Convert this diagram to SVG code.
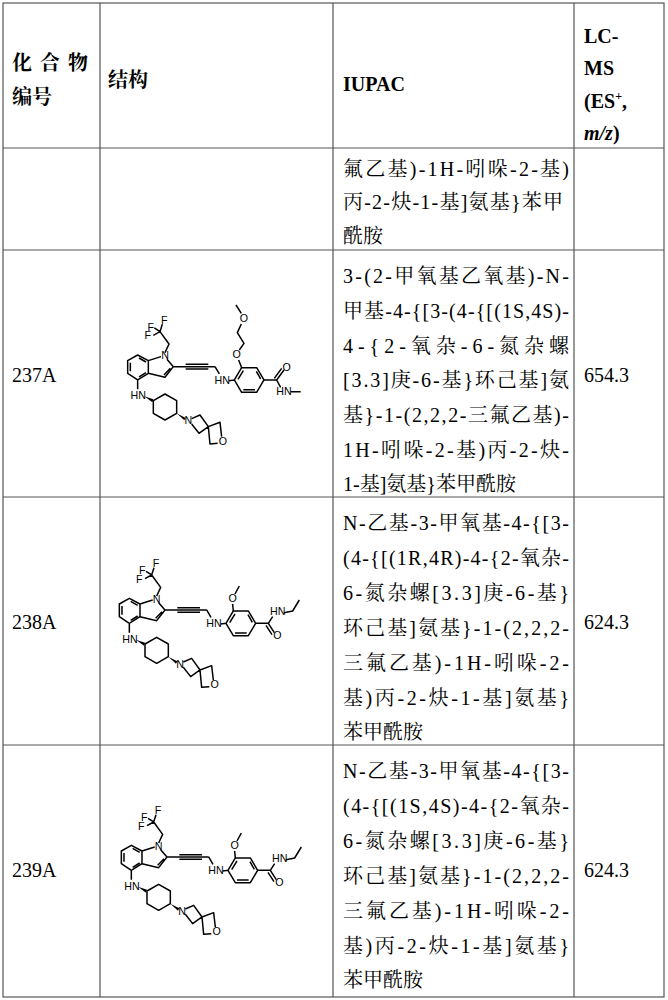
<svg xmlns="http://www.w3.org/2000/svg" width="668" height="1000" viewBox="0 0 668 1000">
<style>
.g{stroke:#555;stroke-width:1.2;fill:none}
.t{font-family:'Liberation Serif','Times New Roman','DejaVu Serif','Noto Serif CJK SC','Noto Sans CJK SC',serif;font-size:20px;fill:#000}
.b{font-weight:bold}
.m{stroke:#000;stroke-width:4.5;fill:none;stroke-linejoin:round}
.w{fill:#000}
.a{font-family:'Liberation Sans',Arial,sans-serif;font-size:32px;fill:#000;text-anchor:middle}
</style>
<defs>
<g id="core">
<path class="m" d="M88,295 L120,312 L120,350 L88,370 L58,350 L58,312 Z M66,318 L66,344 M92,361 L113,348 M92,304 L113,316 M120,312 L158,300 M176,308 L195,330 L170,362 L120,350 M186,335 L167,355 M170,288 L182,262 L155,225 M155,225 L138,214 M155,225 L162,203 M155,225 L135,236 M195,330 L320,330 M232,323 L300,323 M232,337 L300,337 M320,330 L333,352 M362,372 L378,370 M378,370 L400,333 L445,333 L467,370 L445,407 L400,407 Z M389,368 L405,342 M444,344 L457,367 M405,399 L440,399 M88,370 L88,398 M135,432 L170,412 L205,432 L205,470 L170,490 L135,470 Z M250,486 L275,475 L300,510 L272,530 L250,502 M300,510 L335,497 L340,540 M328,560 L305,562 L300,510"/>
<polygon class="w" points="108,419 135,428 132,437"/>
<polygon class="w" points="205,470 232,484 228,491"/>
<text class="a" x="170" y="308">N</text>
<text class="a" x="127" y="222">F</text>
<text class="a" x="168" y="202">F</text>
<text class="a" x="118" y="248">F</text>
<text class="a" x="342" y="382">HN</text>
<text class="a" x="90" y="428">HN</text>
<text class="a" x="240" y="503">N</text>
<text class="a" x="344" y="565">O</text>
</g>
</defs>
<rect x="3" y="3" width="661" height="994" class="g"/>
<path class="g" d="M100,3 V997 M333,3 V997 M574,3 V997 M3,148 H664 M3,250 H664 M3,497 H664 M3,745 H664"/>
<g id="header">
<text class="t b" x="12" y="70" textLength="76" lengthAdjust="spacing">化合物</text>
<text class="t b" x="12" y="104">编号</text>
<text class="t b" x="108" y="87">结构</text>
<text class="t b" x="343" y="91">IUPAC</text>
<text class="t b" x="584" y="43">LC-</text>
<text class="t b" x="584" y="75">MS</text>
<text class="t b" x="584" y="108">(ES<tspan font-size="12" dy="-8">+</tspan><tspan dy="8">,</tspan></text>
<text class="t b" x="584" y="140"><tspan font-style="italic">m/z</tspan>)</text>
</g>
<g id="row1">
<text class="t" x="343" y="176" textLength="226" lengthAdjust="spacing">氟乙基)-1H-吲哚-2-基)</text>
<text class="t" x="343" y="209" textLength="220" lengthAdjust="spacing">丙-2-炔-1-基]氨基}苯甲</text>
<text class="t" x="343" y="243">酰胺</text>
</g>
<g id="row237A">
<text class="t" x="12" y="382">237A</text>
<text class="t" x="584" y="382">654.3</text>
<g transform="translate(100,250) scale(0.3333)">
<use href="#core" transform="translate(25,20)"/>
<path class="m" d="M425,353 L416,330 M418,300 L432,280 L412,248 L424,222 M424,190 L408,165 M492,390 L530,390 L552,360 M523,385 L545,355 M530,390 L542,412 M572,425 L602,425"/>
<text class="a" x="410" y="325">O</text>
<text class="a" x="432" y="215">O</text>
<text class="a" x="560" y="362">O</text>
<text class="a" x="552" y="436">HN</text>
</g>
<text class="t" x="343" y="283" textLength="226" lengthAdjust="spacing">3-(2-甲氧基乙氧基)-N-</text>
<text class="t" x="343" y="318" textLength="226" lengthAdjust="spacing">甲基-4-{[3-(4-{[(1S,4S)-</text>
<text class="t" x="343" y="353" textLength="226" lengthAdjust="spacing">4-{2-氧杂-6-氮杂螺</text>
<text class="t" x="343" y="387" textLength="226" lengthAdjust="spacing">[3.3]庚-6-基}环己基]氨</text>
<text class="t" x="343" y="422" textLength="226" lengthAdjust="spacing">基}-1-(2,2,2-三氟乙基)-</text>
<text class="t" x="343" y="457" textLength="226" lengthAdjust="spacing">1H-吲哚-2-基)丙-2-炔-</text>
<text class="t" x="343" y="491">1-基]氨基}苯甲酰胺</text>
</g>
<g id="row238A">
<text class="t" x="12" y="629">238A</text>
<text class="t" x="584" y="629">624.3</text>
<g id="s238" transform="translate(100,500) scale(0.3333)">
<use href="#core"/>
<path class="m" d="M400,333 L398,312 M405,282 L418,258 M467,370 L505,370 L523,398 M498,376 L516,404 M505,370 L518,350 M552,338 L578,333 L598,300"/>
<text class="a" x="398" y="307">O</text>
<text class="a" x="532" y="418">O</text>
<text class="a" x="533" y="345">HN</text>
</g>
<text class="t" x="343" y="530" textLength="226" lengthAdjust="spacing">N-乙基-3-甲氧基-4-{[3-</text>
<text class="t" x="343" y="565" textLength="226" lengthAdjust="spacing">(4-{[(1R,4R)-4-{2-氧杂-</text>
<text class="t" x="343" y="600" textLength="226" lengthAdjust="spacing">6-氮杂螺[3.3]庚-6-基}</text>
<text class="t" x="343" y="635" textLength="226" lengthAdjust="spacing">环己基]氨基}-1-(2,2,2-</text>
<text class="t" x="343" y="670" textLength="226" lengthAdjust="spacing">三氟乙基)-1H-吲哚-2-</text>
<text class="t" x="343" y="705" textLength="226" lengthAdjust="spacing">基)丙-2-炔-1-基]氨基}</text>
<text class="t" x="343" y="739">苯甲酰胺</text>
</g>
<g id="row239A">
<text class="t" x="12" y="877">239A</text>
<text class="t" x="584" y="877">624.3</text>
<g transform="translate(102,747) scale(0.3333)">
<use href="#core"/>
<path class="m" d="M400,333 L398,312 M405,282 L418,258 M467,370 L505,370 L523,398 M498,376 L516,404 M505,370 L518,350 M552,338 L578,333 L598,300"/>
<text class="a" x="398" y="307">O</text>
<text class="a" x="532" y="418">O</text>
<text class="a" x="533" y="345">HN</text>
</g>
<text class="t" x="343" y="778" textLength="226" lengthAdjust="spacing">N-乙基-3-甲氧基-4-{[3-</text>
<text class="t" x="343" y="813" textLength="226" lengthAdjust="spacing">(4-{[(1S,4S)-4-{2-氧杂-</text>
<text class="t" x="343" y="848" textLength="226" lengthAdjust="spacing">6-氮杂螺[3.3]庚-6-基}</text>
<text class="t" x="343" y="883" textLength="226" lengthAdjust="spacing">环己基]氨基}-1-(2,2,2-</text>
<text class="t" x="343" y="918" textLength="226" lengthAdjust="spacing">三氟乙基)-1H-吲哚-2-</text>
<text class="t" x="343" y="953" textLength="226" lengthAdjust="spacing">基)丙-2-炔-1-基]氨基}</text>
<text class="t" x="343" y="987">苯甲酰胺</text>
</g>
</svg>
